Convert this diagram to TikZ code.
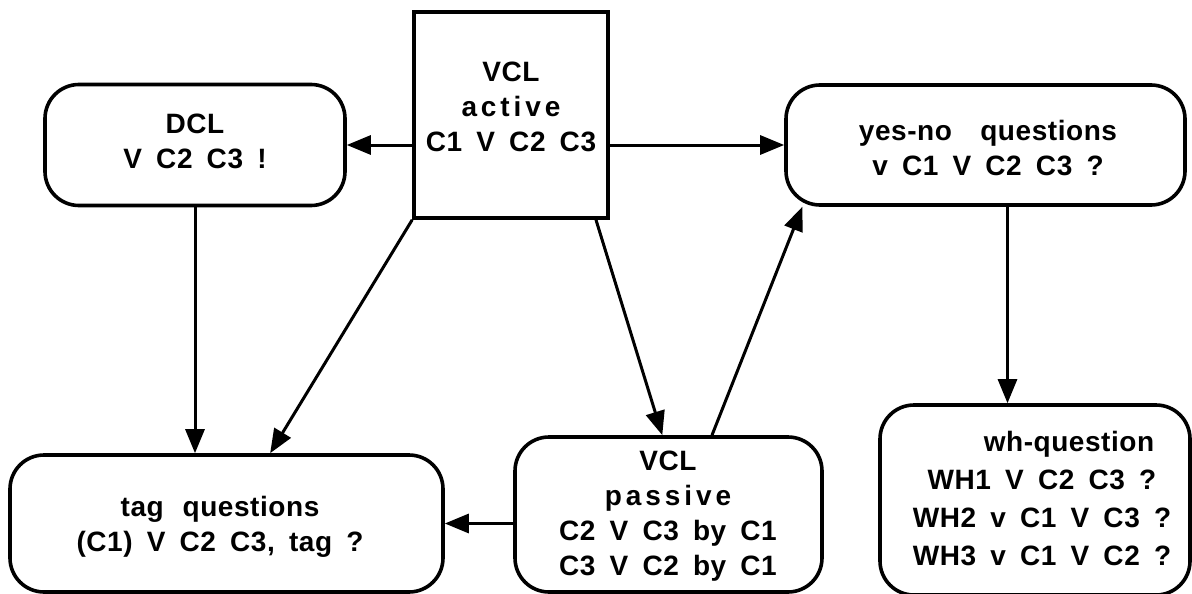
\documentclass[tikz,border=0pt]{standalone}
\usepackage{fontspec}
\setmainfont{Liberation Sans}[WordSpace=1.7, LetterSpace=2]
\newcommand{\spreadout}[1]{{\addfontfeature{LetterSpace=14}#1}}
\usetikzlibrary{arrows.meta,calc}
\begin{document}
\begin{tikzpicture}[x=1pt,y=-1pt,
  every node/.style={font=\bfseries\fontsize{28}{35}\selectfont},
  boxshape/.style={draw, line width=3.6pt, minimum width=#1, inner sep=0pt},
  roundbox/.style={rounded corners=34pt},
  txt/.style={align=center, inner sep=0pt},
  arr/.style={line width=3pt, -{Triangle[length=24pt,width=19pt]}}]
\useasboundingbox (0,0) rectangle (1192,594);

% boxes
\node[boxshape=194pt, minimum height=206pt] (act) at (511,115) {};
\node[boxshape=300pt, minimum height=121pt, roundbox] (dcl) at (195,145) {};
\node[boxshape=399pt, minimum height=120pt, roundbox] (yn) at (985.5,145) {};
\node[boxshape=433pt, minimum height=137pt, roundbox] (tag) at (226.5,523.5) {};
\node[boxshape=307pt, minimum height=155pt, roundbox] (pas) at (668.5,514.5) {};
\node[boxshape=310pt, minimum height=190pt, roundbox] (wh) at (1035,500) {};

% texts
\node[txt] (acttext) at (511,107) {VCL\\\spreadout{active}\\C1 V C2 C3};
\node[txt] (dcltext) at (195,141) {DCL\\V C2 C3 !};
\node[txt] (yntext) at (988,148) {yes-no \ questions\\v C1 V C2 C3 ?};
\node[txt] (tagtext) at (220,527) {tag \,questions\\(C1) V C2 C3, tag ?};
\node[txt] (pastext) at (668,516) {VCL\\\spreadout{passive}\\C2 V C3 by C1\\C3 V C2 by C1};
\node[txt, font=\bfseries\fontsize{28}{38}\selectfont] (whtext) at (1042,499)
  {\hspace*{54pt}wh-question\\WH1 V C2 C3 ?\\WH2 v C1 V C3 ?\\WH3 v C1 V C2 ?};

% connectors
\coordinate (tagin) at ($(tag.north west)!0.6!(tag.north east)$);
\coordinate (actout) at ($(act.south west)!0.93!(act.south east)$);
\coordinate (pasin) at ($(pas.north west)!0.48!(pas.north east)$);
\coordinate (pasout) at ($(pas.north west)!0.64!(pas.north east)$);
\coordinate (ynin) at ($(yn.south west)!0.045!(yn.south east)$);
\coordinate (ynout) at ($(yn.south)+(22,0)$);

\draw[arr] (act.west |- dcl.east) -- (dcl.east);
\draw[arr] (act.east |- yn.west) -- (yn.west);
\draw[arr] (dcl.south) -- (tag.north -| dcl.south);
\draw[arr] (act.south west) -- (tagin);
\draw[arr] (actout) -- (pasin);
\draw[arr] (pasout) -- (ynin);
\draw[arr] (pas.west |- tag.east) -- (tag.east);
\draw[arr] (ynout) -- (wh.north -| ynout);
\end{tikzpicture}
\end{document}
